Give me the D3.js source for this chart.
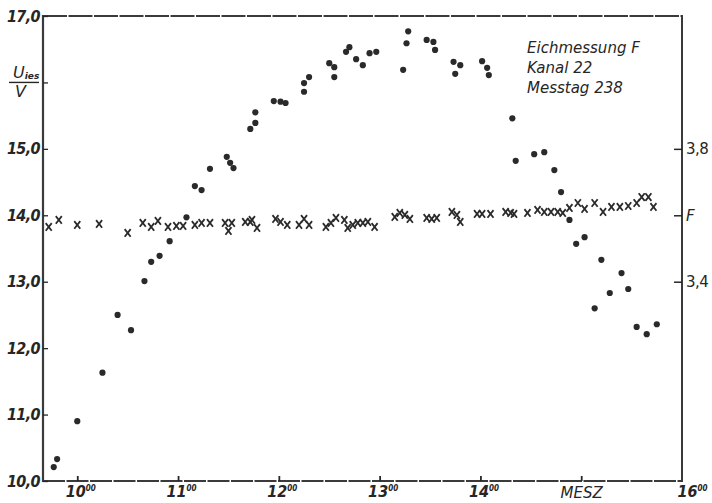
<!DOCTYPE html>
<html>
<head>
<meta charset="utf-8">
<script src="https://cdn.jsdelivr.net/npm/d3@7"></script>
<style>
  body { margin: 0; background: #fff; }
  svg { display: block; }
</style>
</head>
<body>
<svg id="chart"></svg>
<script>
// Eichmessung F, Kanal 22 -- U_ies (dots, left axis) and F (crosses, right axis)
const dotTimes = [
  "9:46", "9:48", "10:00", "10:15", "10:24", "10:32", "10:40", "10:44", "10:49", "10:55",
  "11:05", "11:10", "11:14", "11:19", "11:29", "11:31", "11:33", "11:43", "11:46", "11:46",
  "11:57", "12:01", "12:04", "12:15", "12:15", "12:18", "12:30", "12:33", "12:33", "12:40",
  "12:42", "12:46", "12:50", "12:54", "12:58", "13:14", "13:16", "13:17", "13:28", "13:32",
  "13:33", "13:44", "13:45", "13:48", "14:01", "14:04", "14:05", "14:19", "14:21", "14:32",
  "14:38", "14:44", "14:48", "14:53", "14:57", "15:02", "15:08", "15:12", "15:17", "15:24",
  "15:28", "15:33", "15:39", "15:45",
];
const dotVolts = [
  10.21, 10.33, 10.9, 11.63, 12.5, 12.27, 13.01, 13.3, 13.39, 13.61,
  13.97, 14.44, 14.38, 14.7, 14.88, 14.79, 14.71, 15.3, 15.39, 15.55,
  15.72, 15.71, 15.69, 15.99, 15.86, 16.08, 16.29, 16.23, 16.08, 16.46,
  16.53, 16.35, 16.26, 16.44, 16.46, 16.19, 16.59, 16.77, 16.64, 16.61,
  16.49, 16.31, 16.13, 16.26, 16.32, 16.22, 16.11, 15.46, 14.82, 14.92,
  14.95, 14.68, 14.35, 13.93, 13.57, 13.67, 12.6, 13.33, 12.83, 13.13,
  12.89, 12.32, 12.21, 12.36,
];

const crossTimes = [
  "9:43", "9:49", "10:00", "10:13", "10:30", "10:39", "10:44", "10:48", "10:54", "10:59",
  "11:03", "11:10", "11:14", "11:19", "11:28", "11:30", "11:32", "11:40", "11:43", "11:44",
  "11:47", "11:58", "12:01", "12:05", "12:12", "12:15", "12:18", "12:28", "12:31", "12:34",
  "12:39", "12:41", "12:44", "12:47", "12:50", "12:53", "12:57", "13:09", "13:12", "13:15",
  "13:18", "13:28", "13:31", "13:34", "13:43", "13:46", "13:48", "13:58", "14:01", "14:06",
  "14:15", "14:18", "14:20", "14:28", "14:34", "14:38", "14:42", "14:46", "14:49", "14:53",
  "14:58", "15:02", "15:08", "15:13", "15:18", "15:23", "15:28", "15:33", "15:36", "15:40",
  "15:43",
];
const crossF = [
  3.565, 3.586, 3.571, 3.574, 3.547, 3.577, 3.565, 3.583, 3.565, 3.568,
  3.568, 3.571, 3.577, 3.577, 3.577, 3.553, 3.577, 3.58, 3.58, 3.586,
  3.562, 3.589, 3.58, 3.571, 3.571, 3.589, 3.571, 3.565, 3.577, 3.592,
  3.586, 3.562, 3.571, 3.577, 3.577, 3.58, 3.565, 3.595, 3.607, 3.601,
  3.589, 3.592, 3.589, 3.592, 3.61, 3.601, 3.58, 3.604, 3.604, 3.604,
  3.61, 3.607, 3.604, 3.607, 3.616, 3.61, 3.61, 3.61, 3.607, 3.622,
  3.637, 3.619, 3.637, 3.61, 3.625, 3.625, 3.628, 3.637, 3.655, 3.655,
  3.625,
];

const voltTicks = [10, 11, 12, 13, 14, 15, 16, 17];
const hourTicks = [10, 11, 12, 13, 14, 15, 16];
const hourLabels = ["10", "11", "12", "13", "14", "MESZ", "16"];
const fTicks = [3.4, 3.6, 3.8];
const fLabels = ["3,4", "F", "3,8"];
const noteLines = ["Eichmessung F", "Kanal 22", "Messtag 238"];

const toMin = (s) => {
  const [h, m] = s.split(":").map(Number);
  return h * 60 + m;
};

const width = 712;
const height = 503;
const margin = { top: 16, right: 30, bottom: 22, left: 43 };
const ink = "#262626";
const narrow = "'Liberation Sans Narrow', 'DejaVu Sans Condensed', sans-serif";
const plain = "'DejaVu Sans', sans-serif";

const svg = d3.select("#chart").attr("width", width).attr("height", height);
svg.append("rect").attr("width", width).attr("height", height).attr("fill", "#fff");

const x = d3.scaleLinear()
  .domain([579.6, 960])
  .range([margin.left, width - margin.right]);
const y = d3.scaleLinear()
  .domain([10, 17])
  .range([height - margin.bottom, margin.top]);
const yF = d3.scaleLinear()
  .domain([2.8, 4.2])
  .range([height - margin.bottom, margin.top]);

const x0 = margin.left, x1 = width - margin.right;
const y0 = margin.top, y1 = height - margin.bottom;

// frame: scanned lines have little gaps on top and bottom
const frame = svg.append("g").attr("stroke", "#3a3a3a").attr("fill", "none");
frame.append("line").attr("x1", x0).attr("x2", x1).attr("y1", y0).attr("y2", y0)
  .attr("stroke-width", 2).attr("stroke-dasharray", "24,1.5");
frame.append("line").attr("x1", x0).attr("x2", x1).attr("y1", y1).attr("y2", y1)
  .attr("stroke-width", 2).attr("stroke-dasharray", "22,1.5");
frame.append("line").attr("x1", x0).attr("x2", x0).attr("y1", y0 - 1).attr("y2", y1 + 1)
  .attr("stroke-width", 2.2);
frame.append("line").attr("x1", x1).attr("x2", x1).attr("y1", y0 - 1).attr("y2", y1 + 1)
  .attr("stroke-width", 2);

// left axis
const leftAxis = svg.append("g")
  .attr("transform", `translate(${x0},0)`)
  .call(
    d3.axisLeft(y)
      .tickValues(voltTicks)
      .tickSize(-5)
      .tickPadding(3)
      .tickFormat((d) => (d === 16 ? "" : d.toFixed(1).replace(".", ",")))
  );
leftAxis.select(".domain").remove();
leftAxis.selectAll(".tick line").attr("stroke", ink).attr("stroke-width", 1.3);
leftAxis.selectAll(".tick text")
  .attr("fill", ink)
  .style("font-family", narrow)
  .style("font-size", "16px")
  .style("font-weight", "bold")
  .style("font-style", "italic")
  .style("letter-spacing", "-0.6px");

// U_ies / V unit label in place of 16,0
const unit = svg.append("g").attr("fill", ink).style("font-family", plain).style("font-style", "italic");
const uText = unit.append("text").attr("x", 13).attr("y", y(16) - 4).style("font-size", "16px");
uText.append("tspan").text("U");
uText.append("tspan").attr("dy", 1).style("font-size", "9px").style("font-weight", "bold").text("ies");
unit.append("line")
  .attr("x1", 9).attr("x2", 39).attr("y1", y(16)).attr("y2", y(16))
  .attr("stroke", ink).attr("stroke-width", 1.4);
unit.append("text").attr("x", 15).attr("y", y(16) + 15).style("font-size", "16px").text("V");

// bottom axis
const bottomAxis = svg.append("g")
  .attr("transform", `translate(0,${y1})`)
  .call(
    d3.axisBottom(x)
      .tickValues(hourTicks.map((h) => h * 60))
      .tickSize(-5)
      .tickFormat("")
  );
bottomAxis.select(".domain").remove();
bottomAxis.selectAll(".tick line")
  .attr("stroke", ink)
  .attr("stroke-width", 1.8)
  .attr("display", (d) => (d === 960 ? "none" : null));

bottomAxis.selectAll(".tick").each(function (d, i) {
  const label = hourLabels[i];
  const t = d3.select(this).select("text")
    .attr("fill", ink)
    .attr("y", 16)
    .attr("dy", null)
    .attr("text-anchor", "middle")
    .style("font-style", "italic");
  if (label === "MESZ") {
    t.style("font-family", plain).style("font-size", "15px").attr("y", 17).text(label);
    return;
  }
  t.style("font-family", narrow).style("font-size", "16px").style("font-weight", "bold")
    .attr("x", d === 960 ? 10 : 3);
  t.append("tspan").text(label);
  t.append("tspan").attr("dy", -6).style("font-size", "8px").text("00");
});

// right axis (F)
const rightAxis = svg.append("g")
  .attr("transform", `translate(${x1},0)`)
  .call(
    d3.axisRight(yF)
      .tickValues(fTicks)
      .tickSize(-8)
      .tickPadding(4)
      .tickFormat((d, i) => fLabels[i])
  );
rightAxis.select(".domain").remove();
rightAxis.selectAll(".tick line").attr("stroke", ink).attr("stroke-width", 1.5);
rightAxis.selectAll(".tick text")
  .attr("fill", ink)
  .style("font-family", plain)
  .style("font-size", "15px")
  .style("letter-spacing", "-0.5px")
  .style("font-style", (d) => (d === 3.6 ? "italic" : "normal"));

// measurement crosses
const crosses = crossTimes.map((t, i) => ({ t: toMin(t), f: crossF[i] }));
svg.append("g")
  .attr("stroke", "#2a2a2a")
  .attr("stroke-width", 1.8)
  .attr("fill", "none")
  .selectAll("path")
  .data(crosses)
  .join("path")
  .attr("transform", (d) => `translate(${x(d.t)},${yF(d.f)})`)
  .attr("d", "M-3,-3.8L3,3.8M3,-3.8L-3,3.8");

// measurement dots
const dots = dotTimes.map((t, i) => ({ t: toMin(t), v: dotVolts[i] }));
svg.append("g")
  .attr("fill", "#2a2a2a")
  .selectAll("circle")
  .data(dots)
  .join("circle")
  .attr("cx", (d) => x(d.t))
  .attr("cy", (d) => y(d.v))
  .attr("r", 3.1);

// note block, top right
svg.append("g")
  .attr("fill", ink)
  .style("font-family", plain)
  .style("font-size", "15px")
  .style("font-style", "italic")
  .selectAll("text")
  .data(noteLines)
  .join("text")
  .attr("x", 527)
  .attr("y", (d, i) => 53 + i * 20)
  .text((d) => d);
</script>
</body>
</html>
